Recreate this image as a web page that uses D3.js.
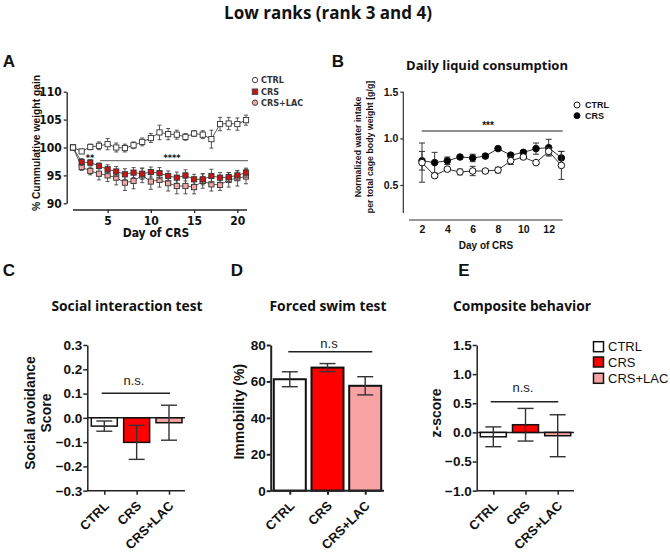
<!DOCTYPE html>
<html><head><meta charset="utf-8">
<script src="https://cdn.jsdelivr.net/npm/d3@7"></script>
<style>body{margin:0;background:#fff}svg{display:block}</style>
</head><body>
<svg id="c" width="670" height="559"></svg>
<script>
// ---------- DATA ----------
const groups = ["CTRL", "CRS", "CRS+LAC"];
// Panel A: cumulative weight gain (%)
const daysA = d3.range(1, 22);
const ctrlA = [100,99.3,100.1,100.3,100.6,100.0,99.9,100.4,101.0,101.7,102.7,102.4,102.3,101.9,102.5,102.3,101.5,104.2,104.3,104.2,104.9];
const ctrlAErr = [0,0.4,0.5,0.7,1.0,0.8,0.7,0.6,0.7,0.8,1.3,1.0,0.8,0.6,0.5,0.7,1.6,1.2,1.1,1.1,0.9];
const crsA = [100,97.4,97.3,96.7,96.1,95.7,95.2,95.5,95.3,95.6,95.4,94.9,94.6,95.0,94.3,94.3,94.9,94.6,94.7,95.0,95.5];
const crsAErr = [0,0.6,0.5,0.5,0.8,0.9,1.0,0.9,1.0,0.9,1.0,0.9,1.0,1.0,0.9,1.0,1.2,0.9,0.8,0.8,0.8];
const lacA = [100,96.5,95.8,95.3,95.0,94.6,93.7,94.0,95.0,93.9,94.2,93.6,93.1,93.1,92.9,94.0,93.4,93.3,94.2,94.5,94.8];
const lacAErr = [0,0.6,0.7,1.1,1.1,1.3,1.4,1.4,1.3,1.4,1.3,1.4,1.4,1.4,1.2,1.3,1.2,1.0,1.3,1.4,1.3];
const ticksAX = [5,10,15,20];
const ticksAY = [90,95,100,105,110];
// Panel B: daily liquid consumption
const daysB = d3.range(2, 14);
const ctrlB = [0.74,0.60,0.67,0.64,0.65,0.65,0.66,0.76,0.80,0.74,0.86,0.71];
const ctrlBErr = [0.21,0.02,0.02,0.03,0.05,0.02,0.03,0.04,0.02,0.02,0.04,0.15];
const crsB = [0.76,0.74,0.76,0.80,0.79,0.81,0.89,0.82,0.85,0.89,0.90,0.79];
const crsBErr = [0.10,0.11,0.04,0.02,0.04,0.02,0.02,0.02,0.02,0.06,0.09,0.07];
const ticksBX = [2,4,6,8,10,12];
const ticksBY = [0.5,1.0,1.5];
// Panel C: social avoidance score
const socialMean = [-0.034,-0.101,-0.020];
const socialErr = [0.021,0.070,0.072];
const ticksC = [-0.3,-0.2,-0.1,0.0,0.1,0.2,0.3];
// Panel D: forced swim immobility (%)
const fstMean = [61.2,67.6,57.6];
const fstErr = [4.1,2.2,5.0];
const ticksD = [0,20,40,60,80];
// Panel E: composite z-score
const zMean = [-0.075,0.132,-0.057];
const zErr = [0.17,0.28,0.36];
const ticksE = [-1.0,-0.5,0.0,0.5,1.0,1.5];
const barColors = ["#ffffff", "#ff0000", "#f7a3a3"];
const lineColors = ["#ffffff", "#cc1414", "#f2a7a7"];

// ---------- DRAW ----------
const svg = d3.select("#c");
const ARIAL = "'Liberation Sans', Arial, sans-serif";
const NARROW = "'Liberation Sans Narrow', 'DejaVu Sans Condensed', 'Liberation Sans', sans-serif";
const CAL = "'Open Sans', Lato, sans-serif";

function txt(g, x, y, s, o = {}) {
  const t = g.append("text").attr("x", x).attr("y", y).text(s)
    .attr("font-family", o.ff || ARIAL).attr("font-size", o.fs || 12)
    .attr("font-weight", o.fw || "bold").attr("fill", o.fill || "#111")
    .attr("text-anchor", o.anchor || "middle");
  if (o.rot) t.attr("transform", `rotate(${o.rot},${x},${y})`);
  return t;
}

// Main title and panel titles
txt(svg, 328, 19, "Low ranks (rank 3 and 4)", {ff: CAL, fs: 17});
txt(svg, 487, 70, "Daily liquid consumption", {ff: CAL, fs: 13});
txt(svg, 127, 311, "Social interaction test", {ff: CAL, fs: 13.8});
txt(svg, 328, 311, "Forced swim test", {ff: CAL, fs: 13.8});
txt(svg, 522, 311, "Composite behavior", {ff: CAL, fs: 13.8});
// panel letters
[["A",9,67],["B",338,67],["C",9,276],["D",237,276],["E",464,276]].forEach(([l,x,y]) =>
  txt(svg, x, y, l, {fs: 17}));

// ===== Panel A =====
{
  const g = svg.append("g");
  const x = d3.scaleLinear().domain([1, 21]).range([73, 246]);
  const y = d3.scaleLinear().domain([90, 110]).range([203.3, 91.7]);
  const ya = g.append("g").attr("transform", "translate(66.7,0)")
    .call(d3.axisLeft(y).tickValues(ticksAY).tickSize(3).tickSizeOuter(0));
  const xa = g.append("g").attr("transform", "translate(0,210)")
    .call(d3.axisBottom(x).tickValues(ticksAX).tickSize(3).tickSizeOuter(0));
  xa.select(".domain").attr("d", "M73,0H247");
  [ya, xa].forEach(a => {
    a.selectAll("path,line").attr("stroke", "#222").attr("stroke-width", 1.3);
    a.selectAll("text").attr("font-family", NARROW).attr("font-weight", "bold")
      .attr("font-size", 12).attr("fill", "#111");
  });
  ya.selectAll("text").attr("x", -5);
  txt(g, 156, 237, "Day of CRS", {ff: NARROW, fs: 12});
  txt(g, 40, 143, "% Cummulative weight gain", {fs: 10.3, rot: -90});
  // significance
  g.append("line").attr("x1", 100).attr("x2", 248).attr("y1", 160.7).attr("y2", 160.7)
    .attr("stroke", "#555").attr("stroke-width", 1);
  txt(g, 172, 161, "****", {fs: 9, ff: NARROW});
  txt(g, 90, 161, "**", {fs: 9, ff: NARROW});
  const series = [[lacA, lacAErr, lineColors[2]], [crsA, crsAErr, lineColors[1]], [ctrlA, ctrlAErr, lineColors[0]]];
  series.forEach(([vals, errs, col]) => {
    const pts = daysA.map((d, i) => ({d, v: vals[i], e: errs[i]}));
    g.append("path").datum(pts).attr("fill", "none").attr("stroke", "#444").attr("stroke-width", 0.9)
      .attr("d", d3.line().x(p => x(p.d)).y(p => y(p.v)));
    const eb = g.append("g").selectAll("g").data(pts.filter(p => p.e > 0)).join("g")
      .attr("stroke", "#444").attr("stroke-width", 0.9);
    eb.append("line").attr("x1", p => x(p.d)).attr("x2", p => x(p.d))
      .attr("y1", p => y(p.v - p.e)).attr("y2", p => y(p.v + p.e));
    [1, -1].forEach(s => eb.append("line").attr("x1", p => x(p.d) - 2).attr("x2", p => x(p.d) + 2)
      .attr("y1", p => y(p.v + s * p.e)).attr("y2", p => y(p.v + s * p.e)));
    g.append("g").selectAll("rect").data(pts).join("rect")
      .attr("x", p => x(p.d) - 2.6).attr("y", p => y(p.v) - 2.6).attr("width", 5.2).attr("height", 5.2)
      .attr("fill", col).attr("stroke", "#333").attr("stroke-width", 0.9);
  });
  // legend
  const leg = [["CTRL", lineColors[0], "circle"], ["CRS", lineColors[1], "square"], ["CRS+LAC", lineColors[2], "circle"]];
  leg.forEach(([name, col, shp], i) => {
    const ly = [80, 91.7, 102.7][i];
    if (shp === "circle") g.append("circle").attr("cx", 255).attr("cy", ly).attr("r", 2.7)
      .attr("fill", col).attr("stroke", "#444").attr("stroke-width", 1);
    else g.append("rect").attr("x", 252.3).attr("y", ly - 2.7).attr("width", 5.4).attr("height", 5.4)
      .attr("fill", col).attr("stroke", "#444").attr("stroke-width", 1);
    txt(g, 261, ly + 3.2, name, {ff: NARROW, fs: 9, anchor: "start", fill: "#333"});
  });
}

// ===== Panel B =====
{
  const g = svg.append("g");
  const x = d3.scaleLinear().domain([2, 12]).range([422, 548.7]);
  const y = d3.scaleLinear().domain([0.5, 1.5]).range([185, 91.7]);
  const ya = g.append("g").attr("transform", "translate(403.3,0)")
    .call(d3.axisLeft(y).tickValues(ticksBY).tickFormat(d3.format(".1f")).tickSize(3).tickSizeOuter(0));
  ya.select(".domain").attr("d", `M0,${y(1.5)}V${y(0.2)}`);
  const xa = g.append("g").attr("transform", "translate(0,220)")
    .call(d3.axisBottom(x).tickValues(ticksBX).tickSize(0).tickSizeOuter(0));
  xa.select(".domain").attr("d", "M409,0H562.7");
  [ya, xa].forEach(a => {
    a.selectAll("path,line").attr("stroke", "#333").attr("stroke-width", 1.2);
    a.selectAll("text").attr("font-family", ARIAL).attr("font-weight", "bold")
      .attr("font-size", 10.5).attr("fill", "#111");
  });
  xa.selectAll("text").attr("y", 6);
  ya.selectAll("text").attr("x", -5);
  txt(g, 486, 249, "Day of CRS", {fs: 10});
  txt(g, 361, 147, "Normalized water intake", {fs: 8.8, rot: -90});
  txt(g, 373, 147, "per total cage body weight [g/g]", {fs: 8.8, rot: -90});
  g.append("line").attr("x1", 421.7).attr("x2", 562.7).attr("y1", 131).attr("y2", 131)
    .attr("stroke", "#222").attr("stroke-width", 1.2);
  txt(g, 488, 129, "***", {fs: 10});
  const series = [[crsB, crsBErr, "#000"], [ctrlB, ctrlBErr, "#fff"]];
  series.forEach(([vals, errs, col]) => {
    const pts = daysB.map((d, i) => ({d, v: vals[i], e: errs[i]}));
    g.append("path").datum(pts).attr("fill", "none").attr("stroke", "#333").attr("stroke-width", 1)
      .attr("d", d3.line().x(p => x(p.d)).y(p => y(p.v)));
    const eb = g.append("g").selectAll("g").data(pts).join("g").attr("stroke", "#333").attr("stroke-width", 1);
    eb.append("line").attr("x1", p => x(p.d)).attr("x2", p => x(p.d))
      .attr("y1", p => y(p.v - p.e)).attr("y2", p => y(p.v + p.e));
    [1, -1].forEach(s => eb.append("line").attr("x1", p => x(p.d) - 3).attr("x2", p => x(p.d) + 3)
      .attr("y1", p => y(p.v + s * p.e)).attr("y2", p => y(p.v + s * p.e)));
    g.append("g").selectAll("circle").data(pts).join("circle")
      .attr("cx", p => x(p.d)).attr("cy", p => y(p.v)).attr("r", 3.3)
      .attr("fill", col).attr("stroke", "#111").attr("stroke-width", 1);
  });
  [["CTRL", "#fff", 105], ["CRS", "#000", 115.7]].forEach(([n, c, ly]) => {
    g.append("circle").attr("cx", 577).attr("cy", ly).attr("r", 3).attr("fill", c)
      .attr("stroke", "#111").attr("stroke-width", 1);
    txt(g, 585, ly + 3.3, n, {fs: 9, anchor: "start"});
  });
}

// ===== Bar panels =====
function barPanel(cfg) {
  const g = svg.append("g");
  const y = d3.scaleLinear().domain(cfg.dom).range([490.7, 345]);
  const x = d3.scalePoint().domain(groups).range(cfg.xr);
  const sw = cfg.sw;
  if (cfg.dom[0] < 0) g.append("line").attr("x1", cfg.ax).attr("x2", cfg.xend)
    .attr("y1", y(0)).attr("y2", y(0)).attr("stroke", "#222").attr("stroke-width", sw);
  g.selectAll("rect.bar").data(groups).join("rect").attr("class", "bar")
    .attr("x", d => x(d) - cfg.bw / 2).attr("width", cfg.bw)
    .attr("y", (d, i) => y(Math.max(0, cfg.mean[i])))
    .attr("height", (d, i) => Math.abs(y(cfg.mean[i]) - y(0)))
    .attr("fill", (d, i) => barColors[i]).attr("stroke", "#111").attr("stroke-width", sw);
  const eb = g.append("g").selectAll("g").data(groups).join("g").attr("stroke", "#333").attr("stroke-width", 1.4);
  eb.append("line").attr("x1", d => x(d)).attr("x2", d => x(d))
    .attr("y1", (d, i) => y(cfg.mean[i] - cfg.err[i])).attr("y2", (d, i) => y(cfg.mean[i] + cfg.err[i]));
  [1, -1].forEach(s => eb.append("line").attr("x1", d => x(d) - cfg.cap).attr("x2", d => x(d) + cfg.cap)
    .attr("y1", (d, i) => y(cfg.mean[i] + s * cfg.err[i])).attr("y2", (d, i) => y(cfg.mean[i] + s * cfg.err[i])));
  const ya = g.append("g").attr("transform", `translate(${cfg.ax},0)`)
    .call(d3.axisLeft(y).tickValues(cfg.ticks).tickFormat(cfg.fmt).tickSize(4).tickSizeOuter(0));
  const xa = g.append("g").attr("transform", "translate(0,490.7)")
    .call(d3.axisBottom(x).tickSize(4).tickSizeOuter(0));
  xa.select(".domain").attr("d", `M${cfg.ax},0H${cfg.xend}`);
  [ya, xa].forEach(a => a.selectAll("path,line").attr("stroke", "#222").attr("stroke-width", sw));
  ya.selectAll("text").attr("font-family", ARIAL).attr("font-weight", "bold").attr("font-size", 13.5)
    .attr("fill", "#111").attr("x", -5);
  xa.selectAll("text").attr("font-family", ARIAL).attr("font-weight", "bold").attr("font-size", 13)
    .attr("fill", "#111").attr("text-anchor", "end").attr("y", 0).attr("dy", 0)
    .attr("transform", "translate(5,16) rotate(-45)");
  cfg.ylab.forEach(([t, lx]) => txt(g, lx, cfg.ylabY, t, {fs: 14, rot: -90}));
  g.append("line").attr("x1", cfg.sig[0]).attr("x2", cfg.sig[1]).attr("y1", cfg.sig[2]).attr("y2", cfg.sig[2])
    .attr("stroke", "#222").attr("stroke-width", 1.5);
  txt(g, cfg.ns[0], cfg.ns[1], cfg.ns[2], {fs: 13, fw: "normal", fill: "#222"});
}
barPanel({dom: [-0.3, 0.3], xr: [104.3, 169], ax: 87.3, xend: 185, bw: 26, sw: 1.5, cap: 8,
  mean: socialMean, err: socialErr, ticks: ticksC, fmt: d3.format(".1f"),
  ylab: [["Social avoidance", 35], ["Score", 51]], ylabY: 413,
  sig: [101.7, 170, 393.3], ns: [134, 385, "n.s."]});
barPanel({dom: [0, 80], xr: [289.8, 365.2], ax: 270.7, xend: 384, bw: 32, sw: 2, cap: 8,
  mean: fstMean, err: fstErr, ticks: ticksD, fmt: d3.format("d"),
  ylab: [["Immobility (%)", 244]], ylabY: 411.7,
  sig: [288.3, 372.3, 351.7], ns: [329, 348, "n.s"]});
barPanel({dom: [-1, 1.5], xr: [493.3, 557.7], ax: 476.7, xend: 574, bw: 26, sw: 1.5, cap: 8,
  mean: zMean, err: zErr, ticks: ticksE, fmt: d3.format(".1f"),
  ylab: [["z-score", 441]], ylabY: 413,
  sig: [490.7, 558.3, 401.7], ns: [523, 392, "n.s."]});
// legend for C-E
groups.forEach((n, i) => {
  const ly = [346.7, 362, 378.3][i];
  svg.append("rect").attr("x", 593.5).attr("y", ly - 5).attr("width", 10).attr("height", 10)
    .attr("fill", barColors[i]).attr("stroke", "#111").attr("stroke-width", 1.5);
  txt(svg, 608, ly + 4.7, n, {fs: 13, fw: "normal", anchor: "start"});
});
</script>
</body></html>
